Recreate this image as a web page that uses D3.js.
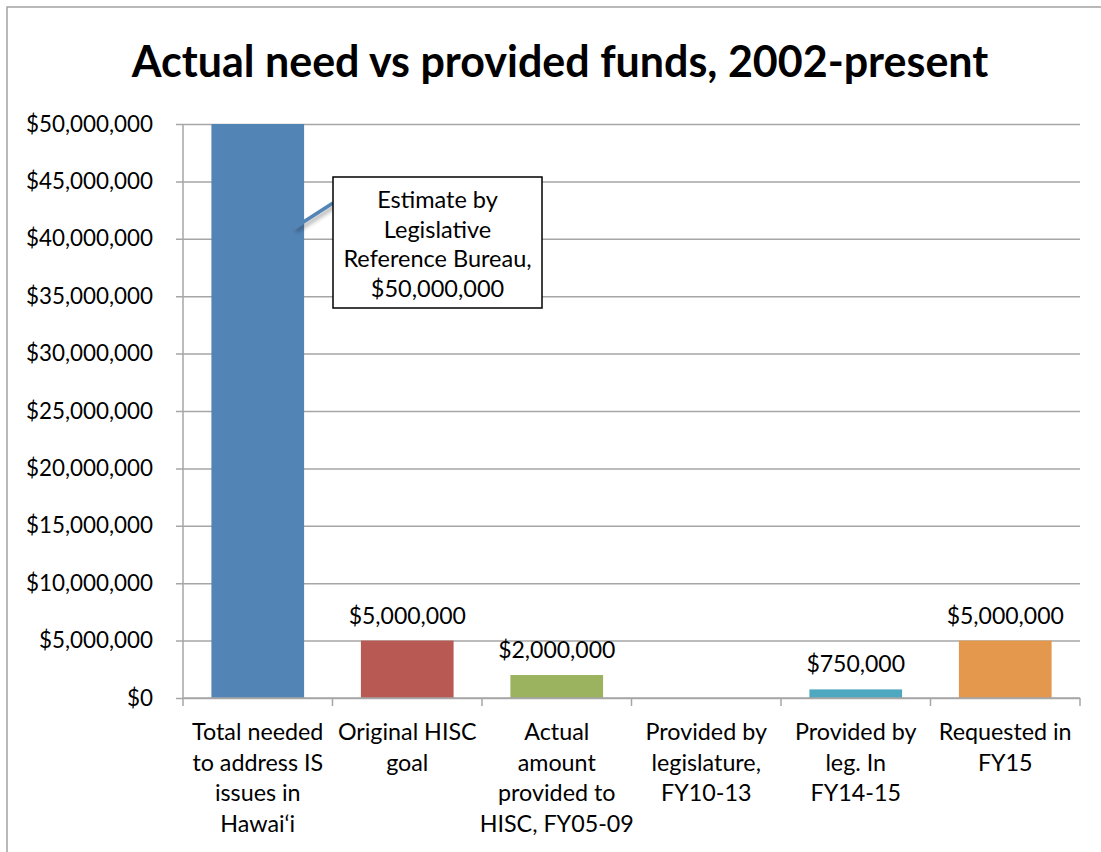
<!DOCTYPE html>
<html lang="en">
<head>
  <meta charset="UTF-8" />
  <title>Actual need vs provided funds, 2002-present</title>
  <script src="https://d3js.org/d3.v7.min.js"></script>
  <style>
    body {
      margin: 0;
      background: #fff;
      font-family: Lato, "Open Sans", sans-serif;
    }
  </style>
</head>
<body>
  <svg width="1101" height="852"></svg>

  <script>
    // chart data
    const categories = [
      ["Total needed", "to address IS", "issues in", "Hawai\u2018i"],
      ["Original HISC", "goal"],
      ["Actual", "amount", "provided to", "HISC, FY05-09"],
      ["Provided by", "legislature,", "FY10-13"],
      ["Provided by", "leg. In", "FY14-15"],
      ["Requested in", "FY15"]
    ];
    const amounts = [50000000, 5000000, 2000000, 0, 750000, 5000000];
    const showLabel = [false, true, true, false, true, true];
    const barColors = ["#5384b6", "#b95953", "#9bb25e", "#4da8c0", "#4da8c0", "#e3984e"];
    const yTicks = d3.range(0, 50000001, 5000000);
    const titleText = "Actual need vs provided funds, 2002-present";
    const calloutLines = ["Estimate by", "Legislative", "Reference Bureau,", "$50,000,000"];

    const svg = d3.select("svg");
    const fmt = d3.format("$,");

    const plotLeft = 183, plotRight = 1080, plotTop = 124, plotBottom = 698;

    // outer chart frame (runs off the right and bottom edges)
    svg.append("rect")
      .attr("x", 7).attr("y", 7)
      .attr("width", 1120).attr("height", 900)
      .attr("fill", "none")
      .attr("stroke", "#a3a3a3")
      .attr("stroke-width", 1.5);

    // title
    svg.append("text")
      .attr("x", 560).attr("y", 77)
      .attr("text-anchor", "middle")
      .attr("font-weight", "bold")
      .attr("font-size", 43)
      .attr("fill", "#000")
      .text(titleText);

    const x = d3.scaleBand()
      .domain(d3.range(categories.length))
      .range([plotLeft, plotRight])
      .paddingInner(0.38)
      .paddingOuter(0.19);

    const y = d3.scaleLinear()
      .domain([0, 50000000])
      .range([plotBottom, plotTop]);

    // gridlines + y axis
    const yAxis = svg.append("g")
      .attr("transform", `translate(${plotLeft},0)`)
      .call(d3.axisLeft(y).tickValues(yTicks).tickFormat(fmt)
        .tickSizeInner(-(plotRight - plotLeft)).tickSizeOuter(0).tickPadding(0));

    yAxis.select(".domain").remove();
    yAxis.selectAll(".tick line")
      .attr("x1", -7)
      .attr("stroke", "#a6a6a6")
      .attr("stroke-width", 1.5);
    yAxis.selectAll(".tick text")
      .attr("x", -30)
      .attr("font-family", "Lato, sans-serif")
      .attr("font-size", 22.4)
      .attr("fill", "#000");

    svg.append("line")
      .attr("x1", plotLeft).attr("x2", plotLeft)
      .attr("y1", plotTop).attr("y2", plotBottom)
      .attr("stroke", "#a6a6a6")
      .attr("stroke-width", 1.5);

    // bars
    svg.append("g")
      .selectAll("rect")
      .data(amounts)
      .join("rect")
      .attr("x", (d, i) => x(i))
      .attr("width", x.bandwidth())
      .attr("y", d => y(d))
      .attr("height", d => y(0) - y(d))
      .attr("fill", (d, i) => barColors[i]);

    // x axis with ticks at category boundaries
    const boundaries = d3.range(categories.length + 1)
      .map(i => plotLeft + i * (plotRight - plotLeft) / categories.length);
    svg.append("line")
      .attr("x1", plotLeft).attr("x2", plotRight)
      .attr("y1", plotBottom).attr("y2", plotBottom)
      .attr("stroke", "#a6a6a6")
      .attr("stroke-width", 1.5);
    svg.append("g")
      .selectAll("line")
      .data(boundaries)
      .join("line")
      .attr("x1", d => d).attr("x2", d => d)
      .attr("y1", plotBottom).attr("y2", plotBottom + 8)
      .attr("stroke", "#a6a6a6")
      .attr("stroke-width", 1.5);

    // category labels
    const catText = svg.append("g")
      .selectAll("text")
      .data(categories)
      .join("text")
      .attr("x", (d, i) => x(i) + x.bandwidth() / 2)
      .attr("y", 740)
      .attr("text-anchor", "middle")
      .attr("font-size", 23.3)
      .attr("fill", "#000");
    catText.selectAll("tspan")
      .data(d => d)
      .join("tspan")
      .attr("x", function() { return this.parentNode.getAttribute("x"); })
      .attr("dy", (d, i) => i === 0 ? 0 : 30.5)
      .text(d => d);

    // data labels
    svg.append("g")
      .selectAll("text")
      .data(amounts.map((v, i) => ({ v, i })).filter(d => showLabel[d.i]))
      .join("text")
      .attr("x", d => x(d.i) + x.bandwidth() / 2)
      .attr("y", d => y(d.v) - 17)
      .attr("text-anchor", "middle")
      .attr("font-size", 23)
      .attr("fill", "#000")
      .text(d => fmt(d.v));

    // callout for the first bar
    const defs = svg.append("defs");
    const shadow = defs.append("filter").attr("id", "shade")
      .attr("x", "-50%").attr("y", "-50%").attr("width", "200%").attr("height", "200%");
    shadow.append("feDropShadow")
      .attr("dx", 2).attr("dy", 3).attr("stdDeviation", 2)
      .attr("flood-color", "#000").attr("flood-opacity", 0.35);

    const box = { x: 333, y: 177, w: 209, h: 131 };
    svg.append("line")
      .attr("x1", x(0) + x.bandwidth() - 10).attr("y1", 228)
      .attr("x2", box.x).attr("y2", 203)
      .attr("stroke", "#5384b6")
      .attr("stroke-width", 3.5)
      .attr("filter", "url(#shade)");
    svg.append("rect")
      .attr("x", box.x).attr("y", box.y)
      .attr("width", box.w).attr("height", box.h)
      .attr("fill", "#fff")
      .attr("stroke", "#000")
      .attr("stroke-width", 1.5);
    svg.append("text")
      .attr("x", box.x + box.w / 2)
      .attr("y", 208)
      .attr("text-anchor", "middle")
      .attr("font-size", 23.5)
      .attr("fill", "#000")
      .selectAll("tspan")
      .data(calloutLines)
      .join("tspan")
      .attr("x", box.x + box.w / 2)
      .attr("dy", (d, i) => i === 0 ? 0 : 29.7)
      .text(d => d);
  </script>
</body>
</html>
